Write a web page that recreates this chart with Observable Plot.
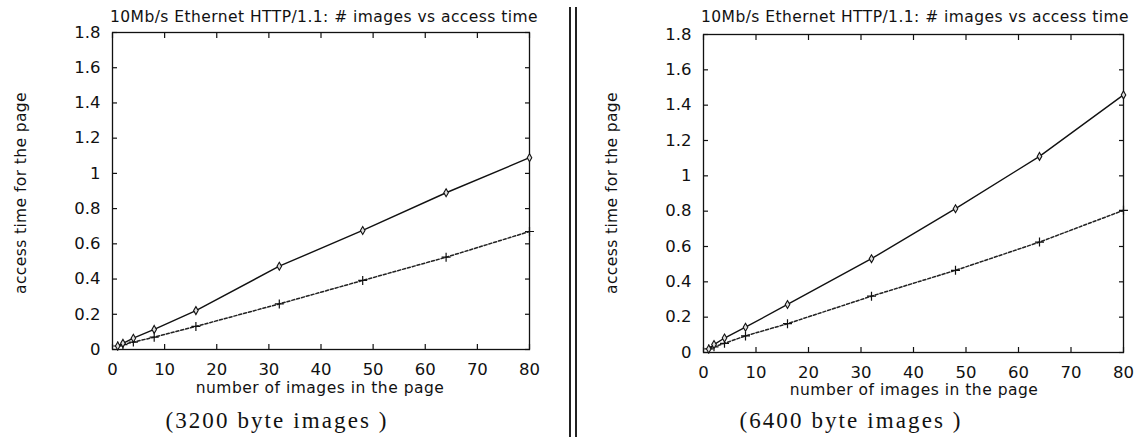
<!DOCTYPE html>
<html>
<head>
<meta charset="utf-8">
<script src="https://cdn.jsdelivr.net/npm/d3@7"></script>
<script src="https://cdn.jsdelivr.net/npm/@observablehq/plot@0.6"></script>
<style>
  html, body { margin: 0; padding: 0; background: #fff; }
  #root { position: relative; width: 1137px; height: 437px; overflow: hidden; background: #fff; }
  .panel { position: absolute; top: 0; }
  .panel svg text { font-family: "DejaVu Sans", "Liberation Sans", Arial, sans-serif !important; font-size: 16.5px !important; }
  .t { position: absolute; white-space: nowrap; color: #111; font-family: "DejaVu Sans", "Liberation Sans", Arial, sans-serif; transform: translate(-50%, -50%); }
  .title { font-size: 15.5px; letter-spacing: 0.45px; }
  .xlab { font-size: 15.5px; letter-spacing: 0.5px; }
  .ylab { font-size: 15.5px; letter-spacing: 0.4px; transform: translate(-50%, -50%) rotate(-90deg); }
  .cap { font-family: "Liberation Serif", "Times New Roman", serif; font-size: 23px; letter-spacing: 2.1px; }
  .divider { position: absolute; top: 7px; bottom: 0; width: 0; border-left: 2px solid #222; }
</style>
</head>
<body>
<div id="root"></div>
<script>
// ---- data ----
const imagesN = [1, 2, 4, 8, 16, 32, 48, 64, 80];
const t3200Solid  = [0.02, 0.035, 0.064, 0.114, 0.221, 0.473, 0.676, 0.890, 1.089];
const t3200Dashed = [0.02, 0.028, 0.042, 0.070, 0.131, 0.259, 0.392, 0.524, 0.670];
const t6400Solid  = [0.02, 0.045, 0.082, 0.143, 0.272, 0.531, 0.814, 1.110, 1.458];
const t6400Dashed = [0.02, 0.032, 0.052, 0.094, 0.163, 0.319, 0.465, 0.625, 0.805];
const xTicks = [0, 10, 20, 30, 40, 50, 60, 70, 80];
const yTicks = [0, 0.2, 0.4, 0.6, 0.8, 1, 1.2, 1.4, 1.6, 1.8];
const chartTitle = "10Mb/s Ethernet HTTP/1.1: # images vs access time";
const xLabel = "number of images in the page";
const yLabel = "access time for the page";
const captions = ["(3200 byte images )", "(6400 byte images )"];

const root = document.getElementById("root");

function rows(ys) { return imagesN.map((n, i) => ({n, t: ys[i]})); }

function panel(solid, dashed, box) {
  const s = rows(solid), d = rows(dashed);
  const fmt = v => String(+v.toFixed(1));
  const font = {fill: "#111"};
  const plot = Plot.plot({
    width: box.width,
    height: 437,
    marginLeft: box.ml, marginRight: box.mr, marginTop: box.mt, marginBottom: box.mb,
    style: {fontFamily: "'DejaVu Sans', 'Liberation Sans', Arial, sans-serif", fontSize: "16.5px", color: "#111", background: "transparent"},
    x: {domain: [0, 80]},
    y: {domain: [0, 1.8]},
    marks: [
      Plot.frame({stroke: "#111", strokeWidth: 1.3}),
      Plot.axisX(xTicks, {anchor: "bottom", tickSize: -5, tickPadding: 19, tickFormat: fmt, label: null, strokeWidth: 1.2, ...font}),
      Plot.axisX(xTicks, {anchor: "top", tickSize: -5, tickFormat: () => "", label: null, strokeWidth: 1.2}),
      Plot.axisY(yTicks, {anchor: "left", tickSize: -5, tickPadding: 17, tickFormat: fmt, label: null, strokeWidth: 1.2, ...font}),
      Plot.axisY(yTicks, {anchor: "right", tickSize: -5, tickFormat: () => "", label: null, strokeWidth: 1.2}),
      Plot.line(d, {x: "n", y: "t", stroke: "#222", strokeWidth: 1.5, strokeDasharray: "3,2"}),
      Plot.line(s, {x: "n", y: "t", stroke: "#111", strokeWidth: 1.4}),
      Plot.dot(d, {x: "n", y: "t", symbol: "plus", r: 3, stroke: "#111", strokeWidth: 1.2}),
      Plot.dot(s, {x: "n", y: "t", symbol: "diamond", r: 2.4, stroke: "#111", fill: "#ddd", strokeWidth: 1.1})
    ]
  });
  const wrap = document.createElement("div");
  wrap.className = "panel";
  wrap.style.left = box.left + "px";
  wrap.appendChild(plot);
  root.appendChild(wrap);
}

function text(cls, str, cx, cy) {
  const el = document.createElement("div");
  el.className = "t " + cls;
  el.textContent = str;
  el.style.left = cx + "px";
  el.style.top = cy + "px";
  root.appendChild(el);
}

panel(t3200Solid, t3200Dashed, {left: 0, width: 570, ml: 112, mr: 41, mt: 32, mb: 88});
panel(t6400Solid, t6400Dashed, {left: 570, width: 567, ml: 133, mr: 14, mt: 34, mb: 85});

text("title", chartTitle, 324, 17);
text("title", chartTitle, 915, 17);
text("xlab", xLabel, 320, 388);
text("xlab", xLabel, 914, 390);
text("ylab", yLabel, 21, 193);
text("ylab", yLabel, 612, 193);
text("cap", captions[0], 277, 421);
text("cap", captions[1], 851, 421);

const d1 = document.createElement("div"); d1.className = "divider"; d1.style.left = "569px"; root.appendChild(d1);
const d2 = document.createElement("div"); d2.className = "divider"; d2.style.left = "575px"; root.appendChild(d2);
</script>
</body>
</html>
